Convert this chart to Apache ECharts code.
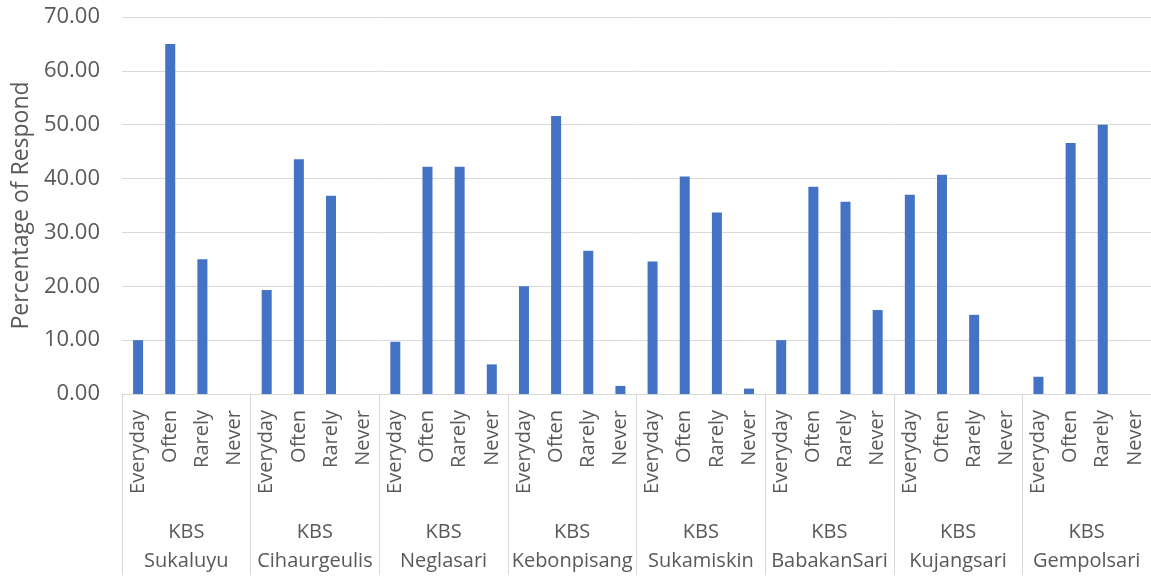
<!DOCTYPE html>
<html>
<head>
<meta charset="utf-8">
<script src="https://cdn.jsdelivr.net/npm/echarts@6/dist/echarts.min.js"></script>
<style>
html,body{margin:0;padding:0;background:#fff;}
#chart{width:1151px;height:587px;}
</style>
</head>
<body>
<div id="chart"></div>
<script>
const groups = ['KBS\nSukaluyu','KBS\nCihaurgeulis','KBS\nNeglasari','KBS\nKebonpisang','KBS\nSukamiskin','KBS\nBabakanSari','KBS\nKujangsari','KBS\nGempolsari'];
const frequencies = ['Everyday','Often','Rarely','Never'];
const sukaluyu     = [10.0, 65.0, 25.0, 0];
const cihaurgeulis = [19.3, 43.6, 36.8, 0];
const neglasari    = [9.7, 42.2, 42.2, 5.5];
const kebonpisang  = [20.0, 51.6, 26.6, 1.5];
const sukamiskin   = [24.6, 40.4, 33.7, 1.0];
const babakansari  = [10.0, 38.5, 35.7, 15.6];
const kujangsari   = [37.0, 40.7, 14.7, 0];
const gempolsari   = [3.2, 46.6, 50.0, 0];
const yTicks = [0, 10, 20, 30, 40, 50, 60, 70];

const groupValues = [sukaluyu, cihaurgeulis, neglasari, kebonpisang, sukamiskin, babakansari, kujangsari, gempolsari];
const categories = [];
const values = [];
groupValues.forEach(function(g){
  frequencies.forEach(function(f, i){ categories.push(f); values.push(g[i]); });
});

const font = 'Open Sans';
const txt = '#595959';
const line = '#d9d9d9';
const chart = echarts.init(document.getElementById('chart'));
chart.setOption({
  animation: false,
  grid: {left: 122, right: -4, top: 17, bottom: 193},
  xAxis: [
    {
      type: 'category', data: categories, position: 'bottom',
      axisLine: {show: true, lineStyle: {color: line, width: 1}},
      axisTick: {show: false},
      axisLabel: {rotate: 90, interval: 0, margin: 16, color: txt, fontFamily: font, fontSize: 20}
    },
    {
      type: 'category', data: groups, position: 'bottom',
      axisLine: {show: false},
      axisTick: {show: true, interval: 0, length: 181, lineStyle: {color: line, width: 1}},
      axisLabel: {interval: 0, margin: 124, color: txt, fontFamily: font, fontSize: 20, lineHeight: 29}
    }
  ],
  yAxis: {
    type: 'value', min: yTicks[0], max: yTicks[yTicks.length-1], interval: 10,
    name: 'Percentage of Respond', nameLocation: 'middle', nameGap: 87,
    nameTextStyle: {color: txt, fontFamily: font, fontSize: 23},
    axisLine: {show: false}, axisTick: {show: false},
    axisLabel: {margin: 22, color: txt, fontFamily: font, fontSize: 22, formatter: function(v){ return v.toFixed(2); }},
    splitLine: {lineStyle: {color: line, width: 1}}
  },
  series: [{
    type: 'bar', xAxisIndex: 0, data: values, barWidth: 10,
    itemStyle: {color: '#4472C4'}
  }]
});
</script>
</body>
</html>
